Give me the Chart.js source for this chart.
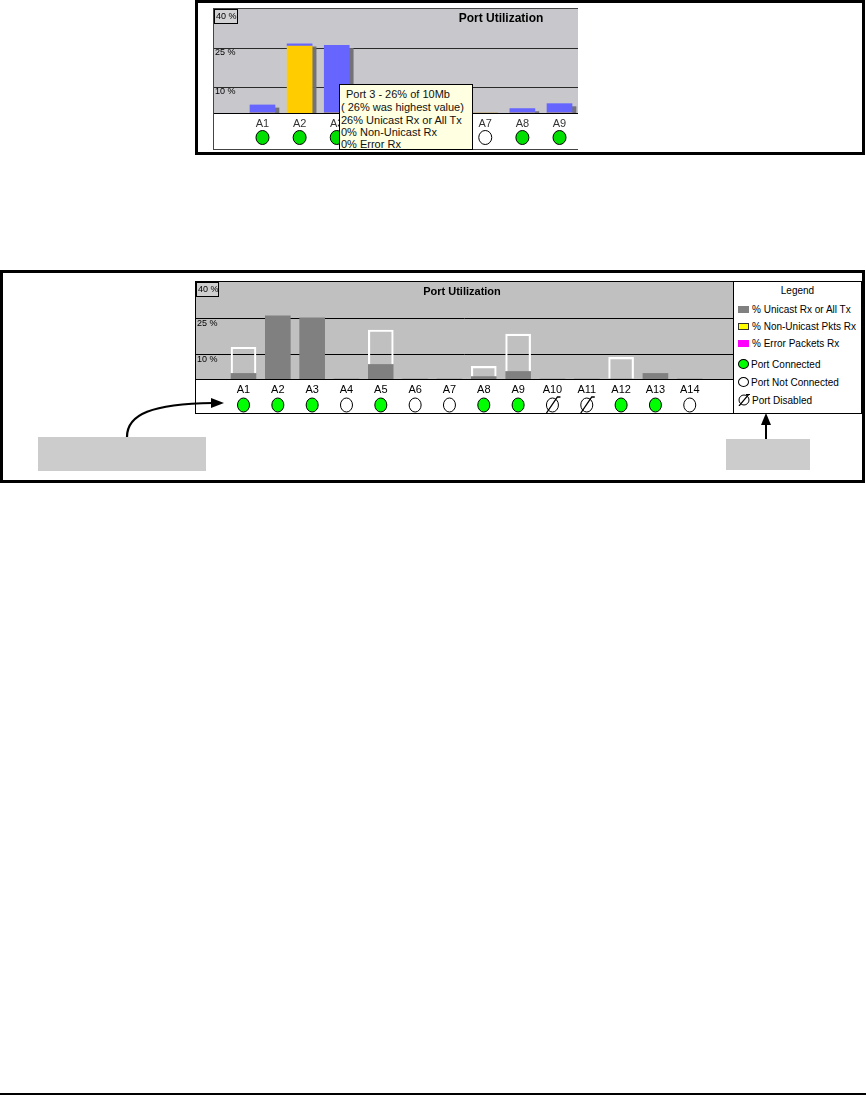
<!DOCTYPE html>
<html>
<head>
<meta charset="utf-8">
<script src="https://cdn.jsdelivr.net/npm/chart.js@4.4.1/dist/chart.umd.min.js"></script>
<style>
  body { margin: 0; background: #fff; font-family: "Liberation Sans", Arial, sans-serif; }
  .frame { position: absolute; border: 3px solid #000; box-sizing: border-box; }
  .box { position: absolute; box-sizing: border-box; }
  canvas { position: absolute; left: 0; top: 0; }
  #tip {
    position: absolute; left: 339px; top: 84px; width: 134px; height: 66px;
    background: #ffffe1; border: 1px solid #000; box-sizing: border-box;
    font-size: 11px; color: #111; line-height: 12.4px; z-index: 5;
  }
  #tip div { position: absolute; left: 1px; white-space: nowrap; }
  #legend {
    position: absolute; left: 537px; top: 0; width: 128px; height: 131px;
    border-left: 1px solid #000; box-sizing: border-box; font-size: 10px; color: #000;
  }
  #legend .row { position: absolute; left: 4px; height: 12px; line-height: 12px; white-space: nowrap; }
  #legend .sw { display: inline-block; width: 11px; height: 7px; margin-right: 3px; vertical-align: 0; box-sizing: border-box; }
  #legend .dot { display: inline-block; width: 11px; height: 10px; border-radius: 50%; border: 1px solid #000; box-sizing: border-box; margin-right: 2px; vertical-align: -1px; }
  .note { position: absolute; background: #cccccc; }
  #notes { position: absolute; left: 0; top: 0; z-index: 6; }
</style>
</head>
<body>

<!-- upper screenshot: hovered port -->
<div class="frame" style="left:195px; top:0; width:670px; height:155px;"></div>
<div class="box" style="left:213px; top:8px; width:365px; height:142px; border:1px solid #444; border-right:none;">
  <canvas id="topChart" width="364" height="140"></canvas>
</div>
<div id="tip"></div>

<!-- lower screenshot: all ports with legend -->
<div class="frame" style="left:0; top:270px; width:865px; height:213px;"></div>
<div class="box" style="left:195px; top:281px; width:667px; height:133px; border:1px solid #000;">
  <canvas id="portChart" width="537" height="131"></canvas>
  <div id="legend">
    <div class="row" style="top:3px; left:0; width:127px; text-align:center;">Legend</div>
    <div class="row" style="top:22px;"><span class="sw" style="background:#808080"></span>% Unicast Rx or All Tx</div>
    <div class="row" style="top:39px;"><span class="sw" style="background:#ffff00; border:1px solid #333"></span>% Non-Unicast Pkts Rx</div>
    <div class="row" style="top:56px;"><span class="sw" style="background:#ff00ff"></span>% Error Packets Rx</div>
    <div class="row" style="top:77px;"><span class="dot" style="background:#00ff00"></span>Port Connected</div>
    <div class="row" style="top:95px;"><span class="dot" style="background:#fff"></span>Port Not Connected</div>
    <div class="row" style="top:112px;"><svg width="13" height="12" style="vertical-align:-2px; margin-right:1px"><ellipse cx="6" cy="6" rx="5" ry="5" fill="#fff" stroke="#000"/><path d="M1 12 L11 0 M8 0.5 L12 0.5" stroke="#000" stroke-width="1.2" fill="none"/></svg>Port Disabled</div>
  </div>
</div>

<div class="note" style="left:38px; top:437px; width:168px; height:34px;"></div>
<div class="note" style="left:726px; top:439px; width:84px; height:31px;"></div>
<svg id="notes" width="866" height="1096">
  <path d="M127 437 C127 414 152 404 213 403" stroke="#000" stroke-width="2.2" fill="none"/>
  <polygon points="224,403 211,398 211,408" fill="#000"/>
  <line x1="766" y1="439" x2="766" y2="423" stroke="#000" stroke-width="2"/>
  <polygon points="766,413 761,425 771,425" fill="#000"/>
</svg>

<div style="position:absolute; left:0; top:1093px; width:866px; height:2px; background:#000;"></div>

<script>
// upper chart (ports A1-A9, A4-A6 hidden under the tooltip)
const topPorts = ["A1", "A2", "A3", "A4", "A5", "A6", "A7", "A8", "A9"];
const topUnicast = [3.1, 0.9, 26, null, null, null, 0, 1.7, 3.6];
const topNonUnicast = [0, 25.7, 0, null, null, null, 0, 0, 0];
const topStatus = ["on", "on", "on", null, null, null, "off", "on", "on"];

// lower chart (ports A1-A14)
const ports = ["A1", "A2", "A3", "A4", "A5", "A6", "A7", "A8", "A9", "A10", "A11", "A12", "A13", "A14"];
const unicast = [2.3, 26, 25.2, 0, 6, 0, 0, 1, 3.1, 0, 0, 0, 2.3, 0];
const highest = [13.1, null, null, null, 20.2, null, null, 5.2, 18.5, null, null, 8.9, null, null];
const portStatus = ["on", "on", "on", "off", "on", "off", "off", "on", "on", "disabled", "disabled", "on", "on", "off"];

const gridTicks = [10, 25];
const axisMax = 40;

Chart.defaults.font.family = "'Liberation Sans', Arial, sans-serif";
Chart.defaults.animation = false;

function points(labels, values) {
  return labels.map((p, i) => ({ x: i + 1, y: values[i] }));
}

function panel(cfg) {
  return {
    id: "panel",
    beforeDraw(chart) {
      const { ctx, chartArea: a } = chart;
      ctx.save();
      ctx.fillStyle = cfg.bg;
      ctx.fillRect(a.left, a.top, a.right - a.left, a.bottom - a.top);
      ctx.restore();
    },
    beforeDatasetsDraw(chart) {
      if (!cfg.shadow) return;
      const ctx = chart.ctx;
      ctx.save();
      ctx.shadowColor = "rgba(110,110,115,0.95)";
      ctx.shadowOffsetX = 4;
      ctx.shadowOffsetY = 3;
      ctx.shadowBlur = 0;
    },
    afterDatasetsDraw(chart) {
      if (cfg.shadow) chart.ctx.restore();
    },
    afterDraw(chart) {
      const { ctx, chartArea: a, scales } = chart;
      ctx.save();
      // percent labels just under each grid line
      ctx.fillStyle = "#000";
      ctx.font = "9px 'Liberation Sans', Arial";
      ctx.textBaseline = "middle";
      ctx.textAlign = "left";
      scales.y.ticks.forEach((t) => {
        ctx.fillText(t.value + " %", a.left + 1, scales.y.getPixelForValue(t.value) + 5);
      });
      // "40 %" button
      ctx.fillStyle = cfg.btnBg;
      ctx.fillRect(a.left, a.top, cfg.btnW, 15);
      ctx.strokeStyle = "#000";
      ctx.lineWidth = 1;
      ctx.strokeRect(a.left + 0.5, a.top + 0.5, cfg.btnW - 1, 14);
      ctx.fillStyle = "#000";
      ctx.fillText(axisMax + " %", a.left + 2, a.top + 8);
      // title
      ctx.font = "bold " + cfg.titleSize + "px 'Liberation Sans', Arial";
      ctx.textAlign = "center";
      ctx.fillText("Port Utilization", cfg.titleX, a.top + 10);
      // port status circles
      cfg.status.forEach((s, i) => {
        if (!s) return;
        const x = scales.x.getPixelForValue(i + 1);
        const y = a.bottom + cfg.dotY;
        ctx.beginPath();
        ctx.ellipse(x, y, cfg.rx, cfg.ry, 0, 0, Math.PI * 2);
        ctx.fillStyle = s === "on" ? cfg.green : "#fff";
        ctx.fill();
        ctx.strokeStyle = "#000";
        ctx.lineWidth = 1;
        ctx.stroke();
        if (s === "disabled") {
          ctx.beginPath();
          ctx.moveTo(x - 6, y + 8);
          ctx.lineTo(x + 5, y - 8);
          ctx.lineTo(x + 8, y - 8);
          ctx.lineWidth = 1.3;
          ctx.stroke();
        }
      });
      ctx.restore();
    }
  };
}

function scalesFor(labels, min, max, axisH, tickColor, gridColor, stacked) {
  return {
    x: {
      type: "linear", min: min, max: max, bounds: "data", offset: false, stacked: stacked,
      grid: { display: false, drawTicks: false },
      border: { display: true, color: "#000", width: 1 },
      afterBuildTicks: (s) => { s.ticks = labels.map((p, i) => ({ value: i + 1 })); },
      afterFit: (s) => { s.height = axisH; s.paddingLeft = 0; s.paddingRight = 0; },
      ticks: {
        autoSkip: false, maxRotation: 0, padding: 4, color: tickColor,
        font: { size: 11 },
        callback: (v) => labels[v - 1]
      }
    },
    y: {
      type: "linear", min: 0, max: axisMax, bounds: "data", stacked: stacked,
      grid: { color: gridColor, lineWidth: 1, drawTicks: false },
      border: { display: false },
      afterBuildTicks: (s) => { s.ticks = gridTicks.map((v) => ({ value: v })); },
      afterFit: (s) => { s.width = 0; s.paddingTop = 0; s.paddingBottom = 0; },
      ticks: { display: false }
    }
  };
}

new Chart(document.getElementById("topChart"), {
  type: "bar",
  data: {
    datasets: [
      {
        label: "% Non-Unicast Pkts Rx",
        data: points(topPorts, topNonUnicast),
        backgroundColor: "#ffcc00",
        barThickness: 25
      },
      {
        label: "% Unicast Rx or All Tx",
        data: points(topPorts, topUnicast),
        backgroundColor: "#6666ff",
        barThickness: 25
      }
    ]
  },
  options: {
    responsive: false,
    layout: { padding: 0 },
    plugins: { legend: { display: false }, tooltip: { enabled: false } },
    scales: scalesFor(topPorts, -0.306, 9.498, 36, "#333", "#2a2a2a", true)
  },
  plugins: [panel({
    bg: "#c8c8cc", btnBg: "#d2d2d4", btnW: 24, titleSize: 12, titleX: 287,
    status: topStatus, dotY: 24.5, rx: 6.5, ry: 7, green: "#00e000", shadow: true
  })]
});

new Chart(document.getElementById("portChart"), {
  type: "bar",
  data: {
    datasets: [
      {
        label: "% Unicast Rx or All Tx",
        data: points(ports, unicast),
        backgroundColor: "#808080",
        barThickness: 25,
        grouped: false
      },
      {
        label: "Highest value",
        data: points(ports, highest),
        backgroundColor: "rgba(0,0,0,0)",
        borderColor: "#ffffff",
        borderWidth: 1.5,
        barThickness: 25,
        grouped: false
      }
    ]
  },
  options: {
    responsive: false,
    layout: { padding: 0 },
    plugins: { legend: { display: false }, tooltip: { enabled: false } },
    scales: scalesFor(ports, -0.384, 15.26, 34, "#000", "#000", false)
  },
  plugins: [panel({
    bg: "#c0c0c0", btnBg: "#cfcfcf", btnW: 23, titleSize: 11, titleX: 266,
    status: portStatus, dotY: 26, rx: 6, ry: 7, green: "#00ff00", shadow: false
  })]
});

// tooltip of the hovered port (A3)
const hov = 2;
const tipLines = [
  ["Port 3 - " + topUnicast[hov] + "% of 10Mb", 3, 6],
  ["( " + topUnicast[hov] + "% was highest value)", 16, 1],
  [topUnicast[hov] + "% Unicast Rx or All Tx", 28.5, 1],
  [topNonUnicast[hov] + "% Non-Unicast Rx", 41, 1],
  ["0% Error Rx", 52.5, 1]
];
const tip = document.getElementById("tip");
tipLines.forEach(([t, y, x]) => {
  const d = document.createElement("div");
  d.textContent = t;
  d.style.top = y + "px";
  d.style.left = x + "px";
  tip.appendChild(d);
});
</script>
</body>
</html>
